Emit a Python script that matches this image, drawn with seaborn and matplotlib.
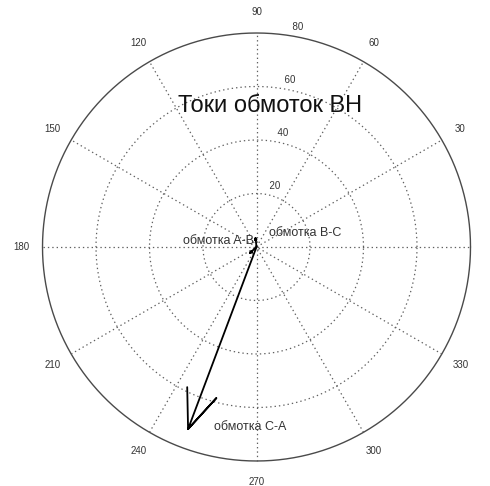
import numpy as np
import pandas as pd
import matplotlib
matplotlib.use("Agg")
import matplotlib.pyplot as plt
import seaborn as sns

# Phasor data: winding currents (magnitude, angle in degrees)
windings = ["обмотка A-B", "обмотка B-C", "обмотка C-A"]
current_mag = [3.3, 3.4, 72.7]
current_ang = [222.0, 96.0, 249.4]

# Polar grid settings
ring_values = [20, 40, 60, 80]
spoke_angles = [0, 30, 60, 90, 120, 150]
angle_labels = [0, 30, 60, 90, 120, 150, 180, 210, 240, 270, 300, 330]
title_text = "Токи обмоток ВН"

sns.set_style("white")
plt.rcParams["font.family"] = ["Liberation Sans", "DejaVu Sans"]

fig = plt.figure(figsize=(4.9, 4.86), dpi=100)
ax = fig.add_axes([0, 0, 1, 1])
ax.set_xlim(-95.89, 87.29)
ax.set_ylim(-89.35, 92.34)
ax.axis("off")

rmax = ring_values[-1]
th = np.linspace(0, 2 * np.pi, 721)
dot = (0, (1.1, 2.4))

# rings
for r in ring_values[:-1]:
    ax.plot(r * np.cos(th), r * np.sin(th), color="#606060", lw=0.9, ls=dot, zorder=1)
ax.plot(rmax * np.cos(th), rmax * np.sin(th), color="#4a4a4a", lw=1.0, zorder=1)

# spokes through the centre
for a in spoke_angles:
    c, s = np.cos(np.radians(a)), np.sin(np.radians(a))
    ax.plot([-rmax * c, rmax * c], [-rmax * s, rmax * s], color="#606060",
            lw=0.9, ls=dot, zorder=1)

# radial labels along 82 degrees
c82, s82 = np.cos(np.radians(82)), np.sin(np.radians(82))
for r in ring_values:
    ax.text((r + 1) * c82, (r + 1) * s82, "  " + str(r), fontsize=7,
            color="#333333", ha="left", va="bottom")

# angle labels
for a in angle_labels:
    ax.text(1.1 * rmax * np.cos(np.radians(a)), 1.1 * rmax * np.sin(np.radians(a)),
            str(a), fontsize=7, color="#333333", ha="center", va="center")

# compass arrows: shaft + head, scaled and rotated per phasor
shape = np.array([0, 1, 0.8, 1, 0.8]) + 1j * np.array([0, 0, 0.08, 0, -0.08])
rows = []
for name, m, a in zip(windings, current_mag, current_ang):
    z = shape * (m * np.exp(1j * np.radians(a)))
    for k, p in enumerate(z):
        rows.append({"winding": name, "order": k, "x": p.real, "y": p.imag})
df = pd.DataFrame(rows)
sns.lineplot(data=df, x="x", y="y", units="winding", estimator=None, sort=False,
             color="black", lw=1.3, ax=ax, legend=False, zorder=3)
ax.set_xlabel("")
ax.set_ylabel("")

# winding labels near the phasor tips
offsets = {"обмотка A-B": (4, 12, "right"),
           "обмотка B-C": (13, 5, "left"),
           "обмотка C-A": (26, 2, "left")}
for name, m, a in zip(windings, current_mag, current_ang):
    tip = (m * np.cos(np.radians(a)), m * np.sin(np.radians(a)))
    dx, dy, ha = offsets[name]
    ax.annotate(name, xy=tip, xytext=(dx, dy), textcoords="offset pixels",
                fontsize=9, color="#333333", ha=ha, va="center", zorder=4)

# title placed inside the polar frame
ax.text(5.0, 52.7, title_text, fontsize=17, color="#111111",
        ha="center", va="center", zorder=4)

fig.savefig("out.png", dpi=100, facecolor="white")
